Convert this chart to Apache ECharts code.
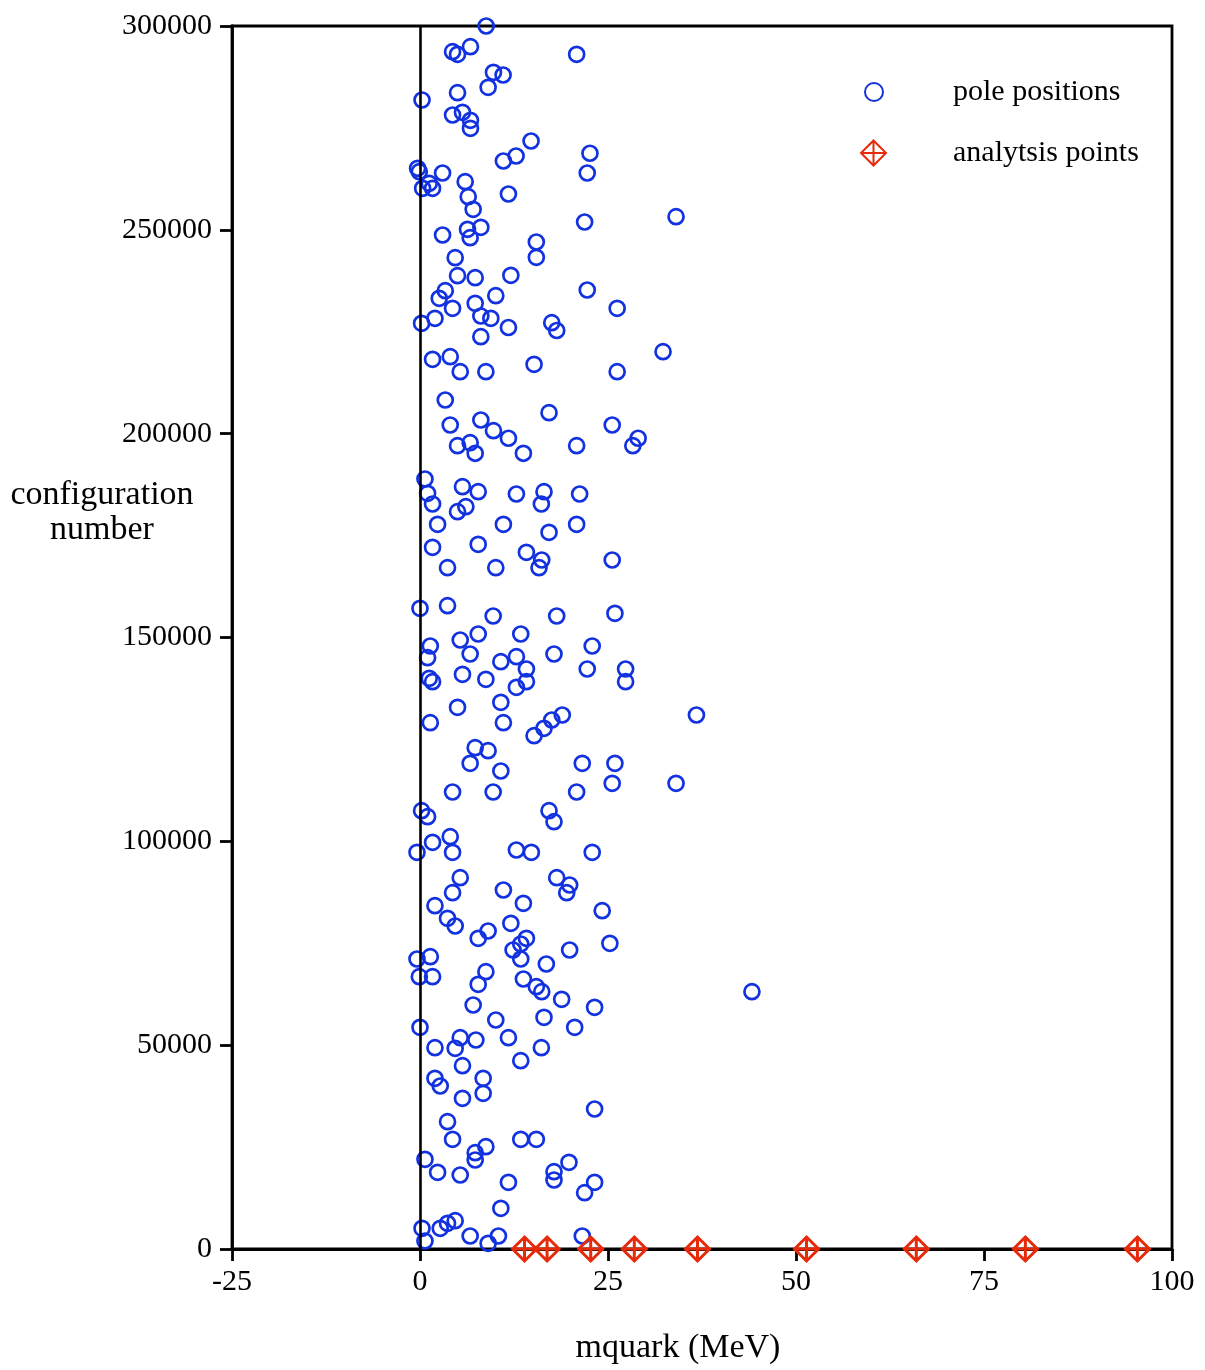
<!DOCTYPE html>
<html>
<head>
<meta charset="utf-8">
<script src="https://cdn.jsdelivr.net/npm/echarts@6/dist/echarts.min.js"></script>
<style>html,body{margin:0;padding:0;background:#fff;}#chart{width:1205px;height:1370px;}</style>
</head>
<body>
<div id="chart"></div>
<script>
// pole positions: quark mass (MeV) and configuration number
const poleMass = [
  8.80,4.33,4.99,6.71,20.83,9.77,11.05,9.06,4.99,0.27,
  4.33,5.65,6.71,6.71,14.77,22.60,11.09,12.78,-0.32,-0.09,
  3.00,22.24,6.01,0.35,1.67,1.23,6.41,11.76,7.07,21.89,
  34.05,6.32,8.09,6.67,3.00,15.47,15.47,4.68,4.99,7.34,
  12.08,22.24,3.36,2.56,7.34,10.08,4.33,26.22,8.09,9.42,
  1.99,0.21,11.76,17.52,18.18,8.09,1.67,4.02,5.35,8.76,
  15.17,32.32,26.22,3.36,17.16,4.02,8.09,9.77,11.76,25.56,
  4.99,6.67,7.34,13.75,20.83,29.01,28.30,0.66,5.65,7.74,
  1.01,12.82,16.49,16.14,21.23,1.67,4.99,6.10,2.34,11.09,
  17.16,20.83,1.67,7.74,14.15,16.19,15.83,25.56,3.66,10.08,
  0,3.66,9.73,18.18,25.92,7.74,13.40,1.37,1.01,5.35,
  22.90,6.67,10.75,12.82,14.15,12.82,14.15,17.82,22.24,27.34,
  27.34,1.23,1.67,5.65,8.76,10.75,4.99,1.37,11.09,15.17,
  16.49,17.52,18.92,36.76,7.34,9.06,6.67,10.75,21.58,25.92,
  25.56,34.05,4.33,9.73,20.83,0.21,1.01,17.16,17.82,1.67,
  4.02,4.33,-0.40,12.82,14.81,22.90,5.35,18.18,19.90,19.51,
  4.33,11.09,1.99,13.75,24.23,3.66,4.68,12.08,7.74,9.06,
  14.15,13.40,25.25,12.38,19.90,-0.40,1.37,13.40,
  16.80,-0.09,1.67,8.76,7.74,13.75,15.47,16.19,44.14,18.84,
  23.22,7.07,10.08,16.49,0,20.57,5.35,4.68,7.43,1.99,
  11.76,16.14,5.65,13.40,1.99,2.69,8.40,8.40,5.65,23.22,
  3.66,4.33,13.40,15.47,7.34,8.76,7.34,0.66,2.34,5.35,
  17.82,17.82,19.81,11.76,23.22,21.89,10.75,0.27,2.69,3.66,
  4.68,0.66,6.67,9.06,10.43,21.58
];
const poleConfig = [
  300000,293700,293060,294930,293060,288640,287980,284960,283640,281850,
  278170,278830,276870,274910,271790,268780,266890,268110,265100,264260,
  263940,263940,261810,260190,260190,261420,258130,258790,255040,251920,
  253220,250130,250620,248070,248730,247020,243260,243170,238750,238260,
  238850,235240,235070,233210,231980,233840,230750,230750,228860,228300,
  228300,227070,226040,227220,225310,223790,218240,218880,215200,215200,
  217020,220110,215200,208260,205140,202130,203350,200730,198870,202130,
  197050,197790,195190,195190,197050,198870,197050,188880,186990,185760,
  185370,185200,185760,182750,185200,182750,180860,182090,177770,177770,
  175810,177770,172130,172860,170900,169010,167120,169010,167120,167120,
  157160,157800,155270,155270,155940,150860,150860,147920,145050,149390,
  147920,145950,144060,145290,142270,137780,139160,145950,142270,142270,
  139160,139990,139160,140970,139750,134110,132880,129100,129100,125910,
  127730,129760,130990,130990,122970,122230,119140,117250,119140,119140,
  114240,114240,112100,112100,112100,107520,106040,107520,104820,99760,
  101140,97310,97310,97870,97310,97310,91080,91080,89290,87400,
  87400,88060,84210,84800,82990,81120,79230,79890,76210,78010,
  76210,74820,74990,73340,73340,71140,71700,71140,
  69910,66800,66800,68020,64930,66230,64340,63120,63120,61250,
  59290,59850,56170,56840,54380,54380,51830,49230,51270,49380,
  51830,49380,44960,46190,41870,39980,41870,38190,36970,34340,
  31230,26910,26910,26910,23620,25090,21830,22000,18810,18150,
  18960,16930,21270,16360,16360,13810,9980,5080,5080,6300,
  6940,1960,3190,1400,3190,3190
];
// analysis points (at configuration 0)
const analysisMass = [13.9, 16.9, 22.7, 28.5, 36.9, 51.4, 66.0, 80.5, 95.4];
const analysisConfig = [0, 0, 0, 0, 0, 0, 0, 0, 0];

const xTicks = { min: -25, max: 100, interval: 25 };
const yTicks = { min: 0, max: 300000, interval: 50000 };
const seriesNames = ['pole positions', 'analytsis points'];
const xAxisName = 'mquark (MeV)';
const yAxisName = 'configuration\nnumber';

const FONT = '"Liberation Serif", "Times New Roman", serif';
const BLUE = '#1232e0';
const RED = '#e62a0a';
const diamondPath = 'path://M10,0 L20,10 L10,20 L0,10 Z M10,0 L10,20 M0,10 L20,10';

const chart = echarts.init(document.getElementById('chart'), null, { renderer: 'canvas' });
const axisLineStyle = { color: '#000', width: 2.8 };

chart.setOption({
  animation: false,
  backgroundColor: '#fff',
  textStyle: { fontFamily: FONT, color: '#000' },
  grid: {
    left: 232, right: 33, top: 26, bottom: 121,
    show: true, borderColor: '#000', borderWidth: 2.8, backgroundColor: 'transparent'
  },
  xAxis: {
    type: 'value', min: xTicks.min, max: xTicks.max, interval: xTicks.interval,
    axisLine: { show: true, onZero: false, lineStyle: axisLineStyle },
    axisTick: { show: true, inside: false, length: 12, lineStyle: axisLineStyle },
    axisLabel: { fontFamily: FONT, fontSize: 30, color: '#000', margin: 18, formatter: v => String(v) },
    splitLine: { show: false }
  },
  yAxis: {
    type: 'value', min: yTicks.min, max: yTicks.max, interval: yTicks.interval,
    axisLine: { show: true, onZero: false, lineStyle: axisLineStyle },
    axisTick: { show: true, inside: false, length: 12, lineStyle: axisLineStyle },
    axisLabel: { fontFamily: FONT, fontSize: 30, color: '#000', margin: 20, formatter: v => String(v) },
    splitLine: { show: false }
  },
  legend: [
    {
      data: [seriesNames[0]], orient: 'vertical', left: 859, top: 72,
      itemWidth: 18, itemHeight: 18, selectedMode: false,
      textStyle: { fontFamily: FONT, fontSize: 30, color: '#000', padding: [0, 0, 0, 65], lineHeight: 30 }
    },
    {
      data: [seriesNames[1]], orient: 'vertical', left: 855, top: 133,
      itemWidth: 25, itemHeight: 25, selectedMode: false,
      textStyle: { fontFamily: FONT, fontSize: 30, color: '#000', padding: [0, 0, 0, 62], lineHeight: 30 }
    }
  ],
  graphic: [
    {
      type: 'text', silent: true, x: 102, y: 513,
      style: {
        text: yAxisName, font: '34px ' + FONT, fill: '#000',
        textAlign: 'center', textVerticalAlign: 'middle', lineHeight: 35
      }
    },
    {
      type: 'text', silent: true, x: 678, y: 1348,
      style: {
        text: xAxisName, font: '34px ' + FONT, fill: '#000',
        textAlign: 'center', textVerticalAlign: 'middle'
      }
    }
  ],
  series: [
    {
      name: seriesNames[0], type: 'scatter',
      data: poleMass.map((m, i) => [m, poleConfig[i]]),
      symbol: 'circle', symbolSize: 15,
      itemStyle: { color: 'rgba(255,255,255,0)', borderColor: BLUE, borderWidth: 2.7, opacity: 1 },
      emphasis: { disabled: true },
      markLine: {
        silent: true, symbol: ['none', 'none'], label: { show: false },
        lineStyle: { color: '#000', width: 2.6, type: 'solid' },
        emphasis: { disabled: true },
        data: [{ xAxis: 0 }]
      },
      z: 3
    },
    {
      name: seriesNames[1], type: 'scatter',
      data: analysisMass.map((m, i) => [m, analysisConfig[i]]),
      symbol: diamondPath, symbolSize: 24, symbolKeepAspect: true,
      itemStyle: { color: 'rgba(255,255,255,0)', borderColor: RED, borderWidth: 3, opacity: 1 },
      emphasis: { disabled: true },
      clip: false,
      z: 4
    }
  ]
});
</script>
</body>
</html>
